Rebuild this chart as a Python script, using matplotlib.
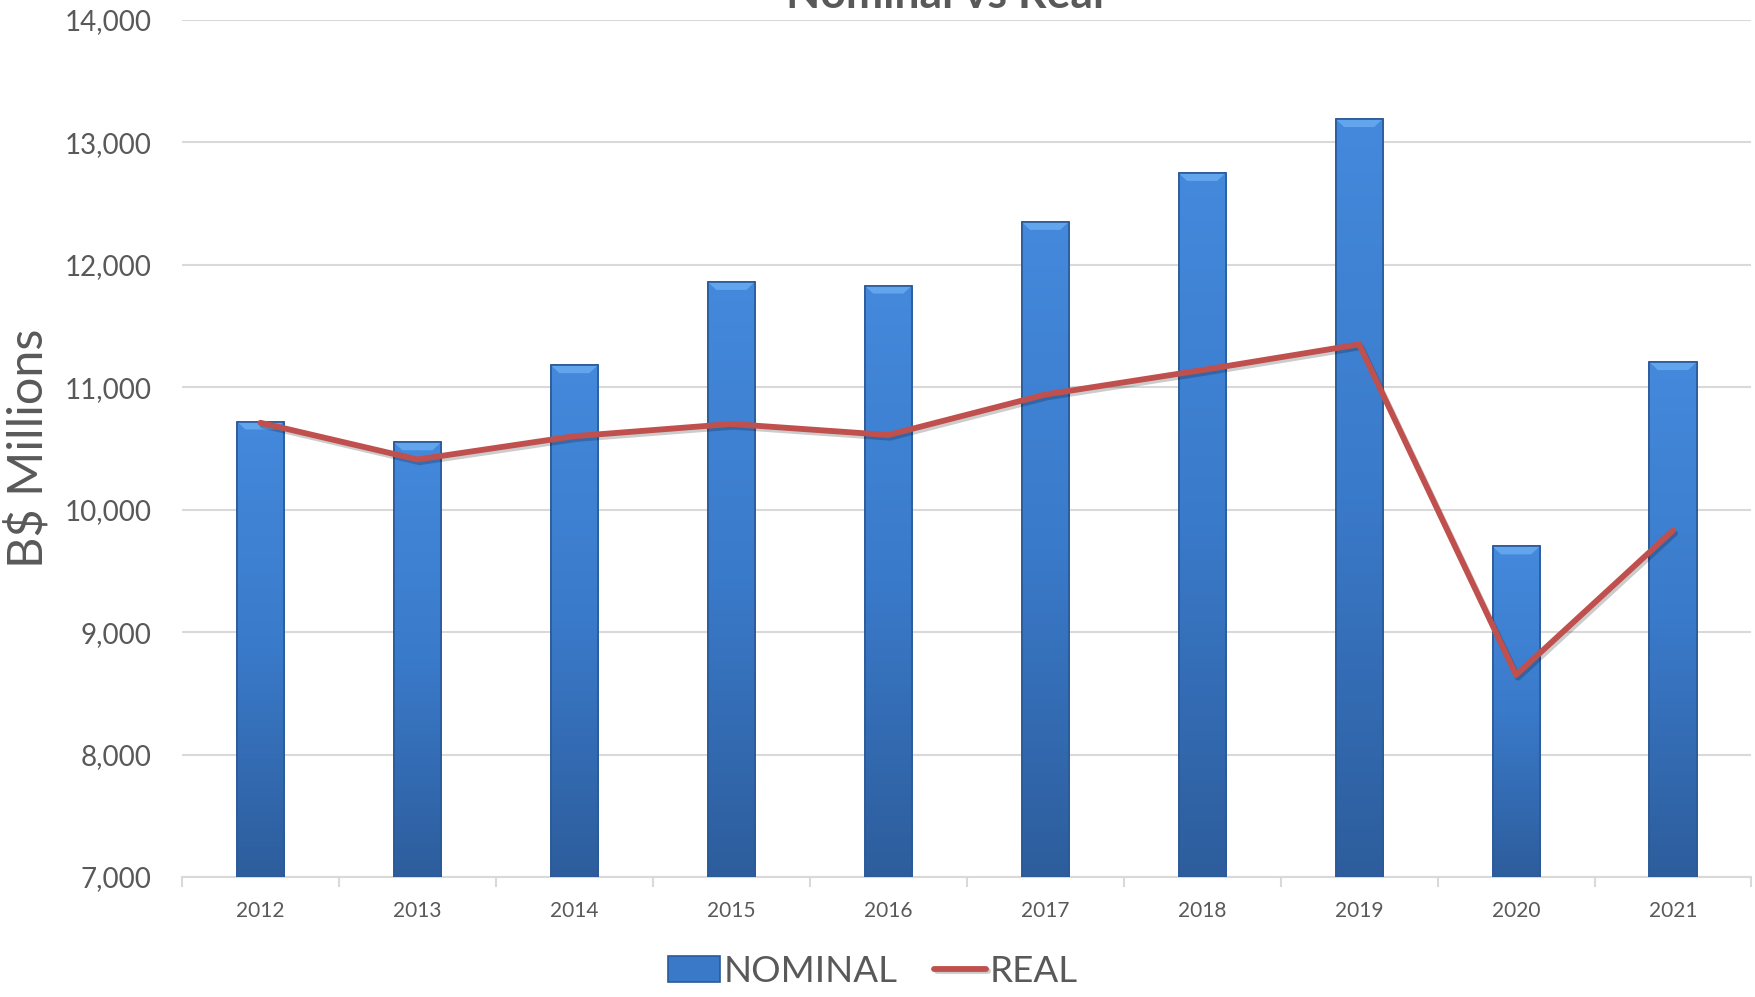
import matplotlib
matplotlib.use("Agg")
import matplotlib.pyplot as plt
import numpy as np
from matplotlib.ticker import FuncFormatter, MultipleLocator
import matplotlib.patheffects as pe

years = ["2012", "2013", "2014", "2015", "2016", "2017", "2018", "2019", "2020", "2021"]
nominal = [10720, 10550, 11180, 11860, 11830, 12350, 12750, 13190, 9700, 11205]
real = [10710, 10410, 10600, 10700, 10610, 10940, 11140, 11350, 8650, 9830]

plt.rcParams["font.family"] = ["Lato", "DejaVu Sans"]
text_color = "#595959"

fig = plt.figure(figsize=(17.55, 9.97), dpi=100)
ax = fig.add_axes([0.1037, 0.1204, 0.8943, 0.8596])

x = np.arange(len(years))
bars = ax.bar(x, np.array(nominal) - 7000, bottom=7000, width=0.3,
              color="#3a78c8", edgecolor="#2a5a98", linewidth=1.2, zorder=3)

# vertical gradient inside each bar, plus a bevel at the top
grad = np.linspace(0, 1, 256).reshape(-1, 1)
cmap = matplotlib.colors.LinearSegmentedColormap.from_list("bar", ["#2d5d9c", "#3a7aca", "#4489dc"])
for b in bars:
    x0, y0 = b.get_x(), b.get_y()
    w, h = b.get_width(), b.get_height()
    im = ax.imshow(grad, extent=[x0, x0 + w, y0, y0 + h], origin="lower",
                   cmap=cmap, aspect="auto", zorder=3.5)
    im.set_clip_path(b)
    top = y0 + h
    ax.fill([x0, x0 + w, x0 + w * 0.82, x0 + w * 0.18], [top, top, top - 65, top - 65],
            color="#62a5ec", zorder=3.6, linewidth=0)
    ax.plot([x0, x0 + w, x0 + w, x0, x0], [y0, y0, top, top, y0],
            color="#2a5a98", linewidth=1.2, zorder=3.7)

ax.plot(x, real, color="#c0504d", linewidth=4.2, solid_capstyle="round", zorder=5,
        path_effects=[pe.SimpleLineShadow(offset=(1.5, -2), alpha=0.2), pe.Normal()])

ax.set_xlim(-0.5, len(years) - 0.5)
ax.set_ylim(7000, 14000)
ax.yaxis.set_major_locator(MultipleLocator(1000))
ax.yaxis.set_major_formatter(FuncFormatter(lambda v, p: f"{int(v):,}"))
ax.grid(axis="y", color="#d9d9d9", linewidth=1.5, zorder=0)
ax.set_axisbelow(True)

for s in ["top", "right", "left"]:
    ax.spines[s].set_visible(False)
ax.spines["bottom"].set_color("#d9d9d9")
ax.spines["bottom"].set_linewidth(1.5)

ax.set_xticks(x, years)
ax.set_xticks(np.arange(-0.5, len(years)), minor=True)
ax.tick_params(axis="x", which="major", length=0, pad=17, labelsize=15, labelcolor=text_color)
ax.tick_params(axis="x", which="minor", length=7, width=1.5, color="#d9d9d9")
ax.tick_params(axis="y", length=0, pad=22, labelsize=20, labelcolor=text_color)

ax.set_ylabel("B$ Millions", fontsize=35, color=text_color, labelpad=10)

fig.text(0.5385, 0.992, "Nominal vs Real", ha="center", va="baseline",
         fontsize=32, fontweight="bold", color=text_color)

fig.legend([bars, ax.lines[-1]], ["NOMINAL", "REAL"], loc="center",
           bbox_to_anchor=(0.4975, 0.026), ncol=2, frameon=False,
           fontsize=26.5, labelcolor=text_color, handlelength=1.4,
           handletextpad=0.1, columnspacing=1.0)

fig.savefig("out.png", dpi=100)
